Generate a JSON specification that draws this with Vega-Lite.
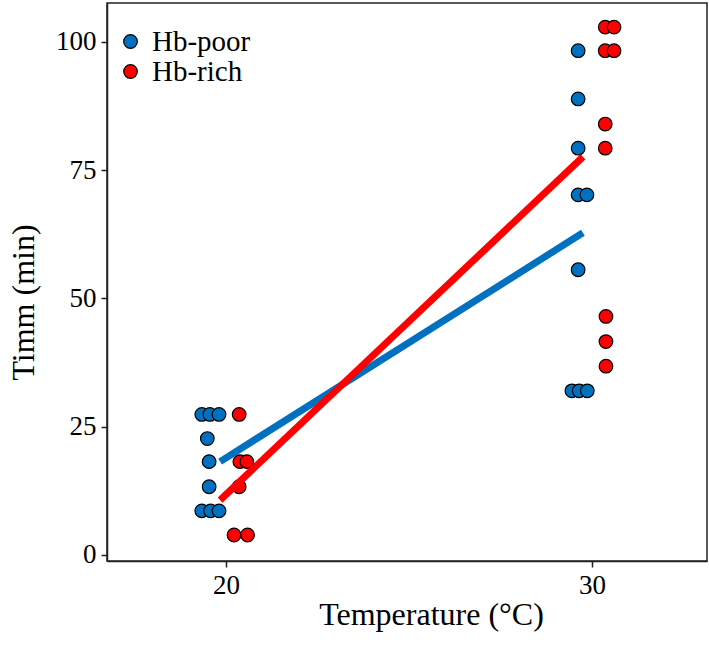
{
  "$schema": "https://vega.github.io/schema/vega-lite/v6.json",
  "autosize": "none",
  "width": 600,
  "height": 558,
  "padding": {"left": 107, "top": 3, "right": 2, "bottom": 84},
  "background": "white",
  "config": {
    "font": "Liberation Serif",
    "view": {"stroke": "#222", "strokeWidth": 1.5},
    "axis": {
      "grid": false,
      "domainColor": "#222",
      "domainWidth": 1.5,
      "tickColor": "#222",
      "tickWidth": 1.5,
      "tickSize": 6,
      "labelFont": "Liberation Serif",
      "labelFontSize": 27,
      "labelColor": "black",
      "labelPadding": 5,
      "titleFont": "Liberation Serif",
      "titleFontSize": 32,
      "titleFontWeight": "normal",
      "titleColor": "black"
    },
    "legend": {
      "labelFont": "Liberation Serif",
      "labelFontSize": 29,
      "labelColor": "black"
    }
  },
  "datasets": {
    "pts": [
      {"temp": 19.34, "timm": 27.4, "group": "Hb-poor"},
      {"temp": 19.56, "timm": 27.4, "group": "Hb-poor"},
      {"temp": 19.81, "timm": 27.4, "group": "Hb-poor"},
      {"temp": 19.49, "timm": 22.7, "group": "Hb-poor"},
      {"temp": 19.54, "timm": 18.2, "group": "Hb-poor"},
      {"temp": 19.54, "timm": 13.3, "group": "Hb-poor"},
      {"temp": 19.34, "timm": 8.6, "group": "Hb-poor"},
      {"temp": 19.58, "timm": 8.6, "group": "Hb-poor"},
      {"temp": 19.81, "timm": 8.6, "group": "Hb-poor"},
      {"temp": 29.62, "timm": 98.3, "group": "Hb-poor"},
      {"temp": 29.62, "timm": 88.9, "group": "Hb-poor"},
      {"temp": 29.62, "timm": 79.3, "group": "Hb-poor"},
      {"temp": 29.62, "timm": 70.2, "group": "Hb-poor"},
      {"temp": 29.86, "timm": 70.2, "group": "Hb-poor"},
      {"temp": 29.62, "timm": 55.6, "group": "Hb-poor"},
      {"temp": 29.45, "timm": 32.0, "group": "Hb-poor"},
      {"temp": 29.65, "timm": 32.0, "group": "Hb-poor"},
      {"temp": 29.87, "timm": 32.0, "group": "Hb-poor"},
      {"temp": 20.36, "timm": 27.4, "group": "Hb-rich"},
      {"temp": 20.38, "timm": 18.2, "group": "Hb-rich"},
      {"temp": 20.57, "timm": 18.2, "group": "Hb-rich"},
      {"temp": 20.36, "timm": 13.3, "group": "Hb-rich"},
      {"temp": 20.22, "timm": 3.9, "group": "Hb-rich"},
      {"temp": 20.59, "timm": 3.9, "group": "Hb-rich"},
      {"temp": 30.36, "timm": 102.9, "group": "Hb-rich"},
      {"temp": 30.60, "timm": 102.9, "group": "Hb-rich"},
      {"temp": 30.36, "timm": 98.3, "group": "Hb-rich"},
      {"temp": 30.60, "timm": 98.3, "group": "Hb-rich"},
      {"temp": 30.36, "timm": 84.0, "group": "Hb-rich"},
      {"temp": 30.36, "timm": 79.3, "group": "Hb-rich"},
      {"temp": 30.38, "timm": 46.5, "group": "Hb-rich"},
      {"temp": 30.38, "timm": 41.6, "group": "Hb-rich"},
      {"temp": 30.38, "timm": 36.8, "group": "Hb-rich"}
    ],
    "fit": [
      {"temp": 19.84, "timm": 18.2, "group": "Hb-poor"},
      {"temp": 29.75, "timm": 62.8, "group": "Hb-poor"},
      {"temp": 19.84, "timm": 10.7, "group": "Hb-rich"},
      {"temp": 29.75, "timm": 77.6, "group": "Hb-rich"}
    ]
  },
  "encoding": {
    "x": {
      "field": "temp",
      "type": "quantitative",
      "scale": {"domain": [16.75, 33.14], "nice": false, "zero": false},
      "axis": {
        "values": [20, 30],
        "title": "Temperature (°C)",
        "titleX": 324,
        "titleY": 53,
        "titleBaseline": "middle",
        "titleAlign": "center"
      }
    },
    "y": {
      "field": "timm",
      "type": "quantitative",
      "scale": {"domain": [-1.17, 107.6], "nice": false, "zero": false},
      "axis": {
        "values": [0, 25, 50, 75, 100],
        "title": "Timm (min)",
        "titleX": -84,
        "titleY": 299,
        "titleBaseline": "middle",
        "titleAlign": "center",
        "titleAngle": -90
      }
    }
  },
  "layer": [
    {
      "data": {"name": "pts"},
      "mark": {"type": "circle", "size": 185, "opacity": 1, "stroke": "black", "strokeWidth": 1.2},
      "encoding": {
        "color": {
          "field": "group",
          "type": "nominal",
          "scale": {"domain": ["Hb-poor", "Hb-rich"], "range": ["#0070C0", "#FF0000"]},
          "legend": {
            "title": null,
            "orient": "none",
            "legendX": 9,
            "legendY": 24,
            "symbolSize": 185,
            "symbolType": "circle",
            "symbolStrokeColor": "black",
            "symbolStrokeWidth": 1.2,
            "symbolOpacity": 1,
            "labelOffset": 7,
            "rowPadding": 0,
            "padding": 0
          }
        }
      }
    },
    {
      "data": {"name": "fit"},
      "mark": {"type": "line", "strokeWidth": 7, "strokeCap": "butt"},
      "encoding": {
        "color": {
          "field": "group",
          "type": "nominal",
          "scale": {"domain": ["Hb-poor", "Hb-rich"], "range": ["#0070C0", "#FF0000"]},
          "legend": null
        }
      }
    }
  ],
  "resolve": {"scale": {"color": "independent"}, "legend": {"color": "independent"}}
}
